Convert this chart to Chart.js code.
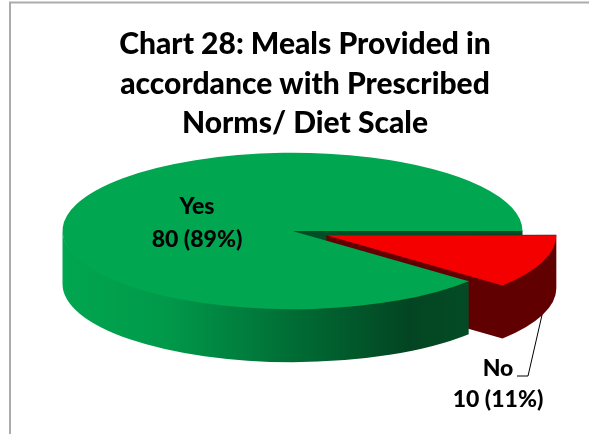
<!DOCTYPE html>
<html><head><meta charset="utf-8">
<style>html,body{margin:0;padding:0;background:#fff}#w{position:absolute;left:0;top:0;width:589px;height:434px}</style>
<script src="https://cdn.jsdelivr.net/npm/chart.js@4"></script>
</head><body><div id="w"><canvas id="c" width="589" height="434"></canvas></div>
<script>
const categories = ['Yes', 'No'];
const values = [80, 10];
const percents = [89, 11];
const topColors = ['#00A650', '#F40000'];
const titleLines = ['Chart 28: Meals Provided in', 'accordance with Prescribed', 'Norms/ Diet Scale'];

const FONT = 'Lato, Carlito, sans-serif';
const CX = 292.5, CY = 231, K = 0.34, DEPTH = 53, EXPLODE = 36;

function normAngle(a) { return Math.atan2(Math.sin(a), Math.cos(a)); }
function sideGradient(ctx, stops, x0, x1) {
  const g = ctx.createLinearGradient(x0, 0, x1, 0);
  stops.forEach(s => g.addColorStop(s[0], s[1]));
  return g;
}
const pie3d = {
  id: 'pie3d',
  afterDatasetsUpdate(chart) {
    // pull the No slice out along its mid-angle
    const no = chart.getDatasetMeta(0).data[1];
    const mid = (no.startAngle + no.endAngle) / 2;
    no.x += Math.cos(mid) * EXPLODE;
    no.y += Math.sin(mid) * EXPLODE;
  },
  beforeDatasetsDraw(chart) {
    const ctx = chart.ctx;
    const arcs = chart.getDatasetMeta(0).data;
    const yes = arcs[0], no = arcs[1];
    const r = yes.outerRadius;
    const startNo = normAngle(no.startAngle);
    const endNo = normAngle(no.endAngle);
    const mid = (startNo + endNo) / 2;
    const ox = Math.cos(mid) * EXPLODE, oy = Math.sin(mid) * EXPLODE * K;
    const ex = Math.cos(endNo) * r;

    // cut wall of Yes at the No start angle
    ctx.fillStyle = '#004D26';
    ctx.fillRect(CX, CY - 0.5, r * Math.cos(startNo), DEPTH);

    // No: cut wall at its end angle plus the outer side, as one shape
    ctx.fillStyle = '#610000';
    ctx.beginPath();
    ctx.moveTo(CX + ox, CY + oy);
    ctx.lineTo(CX + ox + r, CY + oy - 0.5);
    ctx.ellipse(CX + ox, CY + oy + DEPTH, r, r * K, 0, startNo, endNo);
    ctx.lineTo(CX + ox, CY + oy + DEPTH);
    ctx.closePath();
    ctx.fill();

    // outer side of Yes (front part only); starts slightly high so no seam shows under the top
    ctx.fillStyle = sideGradient(ctx, [[0, '#00A650'], [0.25, '#009A4A'], [0.55, '#006F36'], [0.85, '#034522'], [1, '#034B25']], CX - r, CX + ex);
    ctx.beginPath();
    ctx.ellipse(CX, CY - 1, r, r * K, 0, endNo, Math.PI);
    ctx.lineTo(CX - r, CY + DEPTH);
    ctx.ellipse(CX, CY + DEPTH, r, r * K, 0, Math.PI, endNo, true);
    ctx.closePath();
    ctx.fill();

    // squash the pie itself for the library's own arc drawing
    ctx.save();
    ctx.translate(CX, CY);
    ctx.scale(1, K);
    ctx.translate(-yes.x, -yes.y);
  },
  afterDatasetsDraw(chart) {
    const ctx = chart.ctx;
    ctx.restore();
    // frame
    ctx.strokeStyle = '#ABABAB';
    ctx.lineWidth = 2;
    ctx.beginPath();
    ctx.moveTo(10, 434);
    ctx.lineTo(10, 2.5);
    ctx.lineTo(589, 2.5);
    ctx.stroke();
    // labels
    ctx.fillStyle = '#000';
    ctx.font = '900 23px ' + FONT;
    ctx.textAlign = 'center';
    ctx.textBaseline = 'middle';
    ctx.fillText(categories[0], 197, 207);
    ctx.fillText(values[0] + ' (' + percents[0] + '%)', 197, 240);
    ctx.fillText(categories[1], 498, 369);
    ctx.fillText(values[1] + ' (' + percents[1] + '%)', 498, 400);
    // leader
    ctx.strokeStyle = '#000';
    ctx.lineWidth = 1;
    ctx.beginPath();
    ctx.moveTo(542, 315);
    ctx.lineTo(528, 376);
    ctx.lineTo(517, 376);
    ctx.stroke();
  }
};

new Chart(document.getElementById('c'), {
  type: 'pie',
  plugins: [pie3d],
  data: {
    labels: categories,
    datasets: [{
      data: values,
      backgroundColor: topColors,
      borderWidth: 0,
      clip: false
    }]
  },
  options: {
    responsive: false,
    animation: false,
    radius: 230,
    rotation: 90 + 360 * values[1] / (values[0] + values[1]),
    layout: { padding: { left: 21 } },
    plugins: {
      legend: { display: false },
      tooltip: { enabled: false },
      title: {
        display: true,
        text: titleLines,
        color: '#000',
        font: { family: FONT, size: 30, weight: '900', lineHeight: 1.31 },
        padding: { top: 25, bottom: 0 }
      }
    }
  }
});
</script></body></html>
